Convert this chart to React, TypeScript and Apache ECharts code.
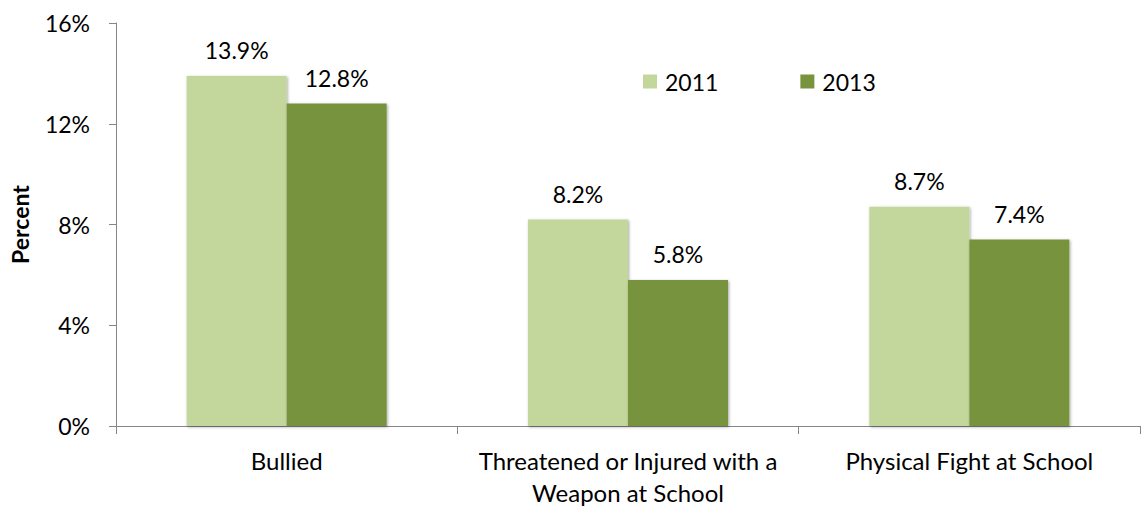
import React, { useEffect, useRef } from "react";
import * as echarts from "echarts";

const categories = ["Bullied", "Threatened or Injured with a\nWeapon at School", "Physical Fight at School"];
const series2011 = [13.9, 8.2, 8.7];
const series2013 = [12.8, 5.8, 7.4];
const seriesNames = ["2011", "2013"];
const colors = ["#C3D69B", "#77933C"];

export default function App() {
  const ref = useRef<HTMLDivElement>(null);
  useEffect(() => {
    const chart = echarts.init(ref.current!, null, { renderer: "svg" });
    const font = "Lato, 'Open Sans', sans-serif";
    const mk = (name: string, data: number[], color: string) => ({
      name,
      type: "bar",
      data,
      barWidth: 100,
      barGap: "0%",
      itemStyle: {
        color,
        shadowBlur: 3,
        shadowColor: "rgba(0,0,0,0.35)",
        shadowOffsetX: 1,
        shadowOffsetY: 1,
      },
      label: {
        show: true,
        position: "top",
        distance: 14,
        formatter: (p: any) => p.value.toFixed(1) + "%",
        color: "#000",
        fontSize: 23,
        fontFamily: font,
      },
    });
    chart.setOption({
      animation: false,
      textStyle: { fontFamily: font },
      grid: { left: 116, width: 1024, top: 23, height: 408, containLabel: false },
      legend: {
        left: 643,
        top: 70,
        padding: 0,
        itemWidth: 14,
        itemHeight: 14,
        itemGap: 82,
        icon: "rect",
        data: seriesNames,
        textStyle: { fontSize: 23, color: "#000", fontFamily: font, padding: [0, 0, 0, 3] },
      },
      xAxis: {
        type: "category",
        data: categories,
        axisLine: { lineStyle: { color: "#868686", width: 1 } },
        axisTick: { show: true, length: 8, lineStyle: { color: "#868686" } },
        axisLabel: {
          color: "#000",
          fontSize: 24,
          fontFamily: font,
          margin: 18,
          lineHeight: 32,
          interval: 0,
        },
      },
      yAxis: {
        type: "value",
        min: 0,
        max: 16,
        interval: 4,
        name: "Percent",
        nameLocation: "middle",
        nameRotate: 90,
        nameGap: 85,
        nameTextStyle: { fontSize: 23, fontWeight: "bold", color: "#000", fontFamily: font },
        axisLine: { show: true, lineStyle: { color: "#868686", width: 1 } },
        axisTick: { show: true, length: 7, lineStyle: { color: "#868686" } },
        splitLine: { show: false },
        axisLabel: {
          color: "#000",
          fontSize: 23,
          fontFamily: font,
          margin: 26,
          formatter: (v: number) => v + "%",
        },
      },
      series: [mk(seriesNames[0], series2011, colors[0]), mk(seriesNames[1], series2013, colors[1])],
    });
    return () => chart.dispose();
  }, []);
  return <div ref={ref} style={{ width: 1142, height: 508, position: "absolute", left: 0, top: 0 }} />;
}
